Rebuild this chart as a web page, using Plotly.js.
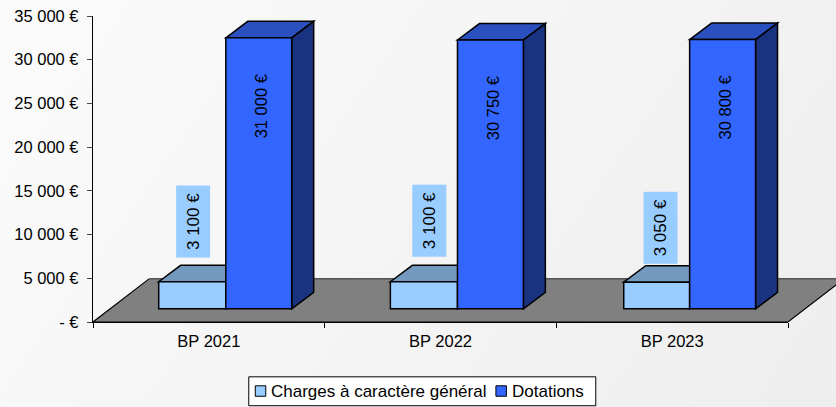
<!DOCTYPE html>
<html><head><meta charset="utf-8">
<script src="https://cdn.plot.ly/plotly-3.0.1.min.js"></script>
<style>html,body{margin:0;padding:0;width:836px;height:407px;overflow:hidden;background:linear-gradient(125deg,#fbfbfb 0%,#f5f5f5 45%,#eeeeee 100%);}</style>
</head><body><div id="chart" style="width:836px;height:407px"></div>
<script>
var categories = ['BP 2021','BP 2022','BP 2023'];
var seriesNames = ['Charges à caractère général','Dotations'];
var charges = [3100,3100,3050];
var dotations = [31000,30750,30800];
var chargesLabels = ['3 100 €','3 100 €','3 050 €'];
var dotationsLabels = ['31 000 €','30 750 €','30 800 €'];
var yTicks = [0,5000,10000,15000,20000,25000,30000,35000];
var yTickLabels = ['- €','5 000 €','10 000 €','15 000 €','20 000 €','25 000 €','30 000 €','35 000 €'];

var W=836,H=407,L=92.5,R=788.5,T=15.5,B=322.5;
var pxX=1/((R-L)/3), pxY=35000/(B-T);
var lift=13.2*pxY, depthX=22*pxX, depthY=16.5*pxY;
var offC=[-50.2*pxX,-50.2*pxX,-48.5*pxX], offD=[17*pxX,17*pxX,17.5*pxX];
var wC=[67.2*pxX,67.2*pxX,66*pxX], wD=66*pxX;
var faces=[];
function box(i,off,w,v,top,side){
  var x0=i+off,x1=x0+w,y0=lift,y1=lift+v;
  var lineS={color:'#000',width:1.5};
  faces.push({type:'path',layer:'below',xref:'x',yref:'y',fillcolor:top,line:lineS,
    path:'M'+x0+','+y1+'L'+(x0+depthX)+','+(y1+depthY)+'L'+(x1+depthX)+','+(y1+depthY)+'L'+x1+','+y1+'Z'});
  faces.push({type:'path',layer:'below',xref:'x',yref:'y',fillcolor:side,line:lineS,
    path:'M'+x1+','+y0+'L'+(x1+depthX)+','+(y0+depthY)+'L'+(x1+depthX)+','+(y1+depthY)+'L'+x1+','+y1+'Z'});
}
var fx=function(p){return (p-L)/(R-L)}, fy=function(p){return (B-p)/(B-T)};
var floorShapes=[
 {type:'path',layer:'below',xref:'paper',yref:'paper',fillcolor:'#808080',line:{color:'#000',width:1.2},
  path:'M'+fx(149)+','+fy(279)+'L'+fx(L)+','+fy(B)+'L'+fx(R)+','+fy(B)+'L'+fx(845)+','+fy(279)},
 {type:'line',layer:'below',xref:'paper',yref:'paper',x0:fx(149),x1:fx(845),y0:fy(279),y1:fy(279),line:{color:'#555',width:1.5}}
];
categories.forEach(function(c,i){
  box(i,offC[i],wC[i],charges[i],'#7399BF','#7399BF');
  box(i,offD[i],wD,dotations[i],'#2A50BF','#1A3380');
});
var legendShapes=[
 {type:'rect',xref:'paper',yref:'paper',x0:fx(248.5),x1:fx(596),y0:fy(406.5),y1:fy(377.5),fillcolor:'#fff',line:{color:'#000',width:1}},
 {type:'rect',xref:'paper',yref:'paper',x0:fx(255),x1:fx(265.5),y0:fy(397),y1:fy(386.5),fillcolor:'#99CCFF',line:{color:'#000',width:1}},
 {type:'rect',xref:'paper',yref:'paper',x0:fx(496),x1:fx(506.5),y0:fy(397),y1:fy(386.5),fillcolor:'#3366FF',line:{color:'#000',width:1}}
];
var font={family:'"Liberation Sans",Arial,sans-serif',color:'#000',size:16.5};
var font2={family:font.family,color:'#000',size:17};
var ann=[];
var nudgeC=[-1.5,-1.5,-7.5], xShiftC=[1,5.5,5.5];
categories.forEach(function(c,i){
  ann.push({x:i,y:dotations[i]+lift-7800,xref:'x',yref:'y',xshift:52.5,text:dotationsLabels[i],textangle:-90,showarrow:false,font:font});
  ann.push({x:i,y:charges[i]+8600,xref:'x',yref:'y',xshift:-17+xShiftC[i],yshift:nudgeC[i],text:chargesLabels[i],textangle:-90,showarrow:false,font:font2,
    bgcolor:'#99CCFF',borderpad:7});
});
ann.push({xref:'paper',yref:'paper',x:fx(268.5),y:fy(392),xanchor:'left',yanchor:'middle',text:seriesNames[0],showarrow:false,font:font2});
ann.push({xref:'paper',yref:'paper',x:fx(510),y:fy(392),xanchor:'left',yanchor:'middle',text:seriesNames[1],showarrow:false,font:font2});

var data=[
 {type:'bar',name:seriesNames[0],x:categories,y:charges,base:lift,offset:offC,width:wC,marker:{color:'#99CCFF',line:{color:'#000',width:1.5}},hoverinfo:'skip',cliponaxis:false},
 {type:'bar',name:seriesNames[1],x:categories,y:dotations,base:lift,offset:offD,width:wD,marker:{color:'#3366FF',line:{color:'#000',width:1.5}},hoverinfo:'skip',cliponaxis:false}
];
var layout={
 width:W,height:H,showlegend:false,barmode:'overlay',
 paper_bgcolor:'rgba(0,0,0,0)',plot_bgcolor:'rgba(0,0,0,0)',
 margin:{l:L,r:W-R,t:T,b:H-B,pad:0},font:font,
 xaxis:{type:'category',categoryorder:'array',categoryarray:categories,range:[-0.5,2.5],tickson:'boundaries',ticks:'outside',ticklen:5,tickcolor:'#000',tickwidth:1,
   showline:true,linecolor:'#000',linewidth:1.2,showgrid:false,zeroline:false,fixedrange:true,tickfont:font,automargin:false,ticklabelstandoff:4},
 yaxis:{range:[0,35000],tickmode:'array',tickvals:yTicks,ticktext:yTickLabels,ticks:'outside',ticklen:5,tickcolor:'#444',tickwidth:1,
   showline:true,linecolor:'#000',linewidth:1.2,showgrid:false,zeroline:false,fixedrange:true,tickfont:font,automargin:false,ticklabelstandoff:5},
 shapes:floorShapes.concat(faces).concat(legendShapes),
 annotations:ann
};
Plotly.newPlot('chart',data,layout,{displayModeBar:false,staticPlot:true});
</script></body></html>
